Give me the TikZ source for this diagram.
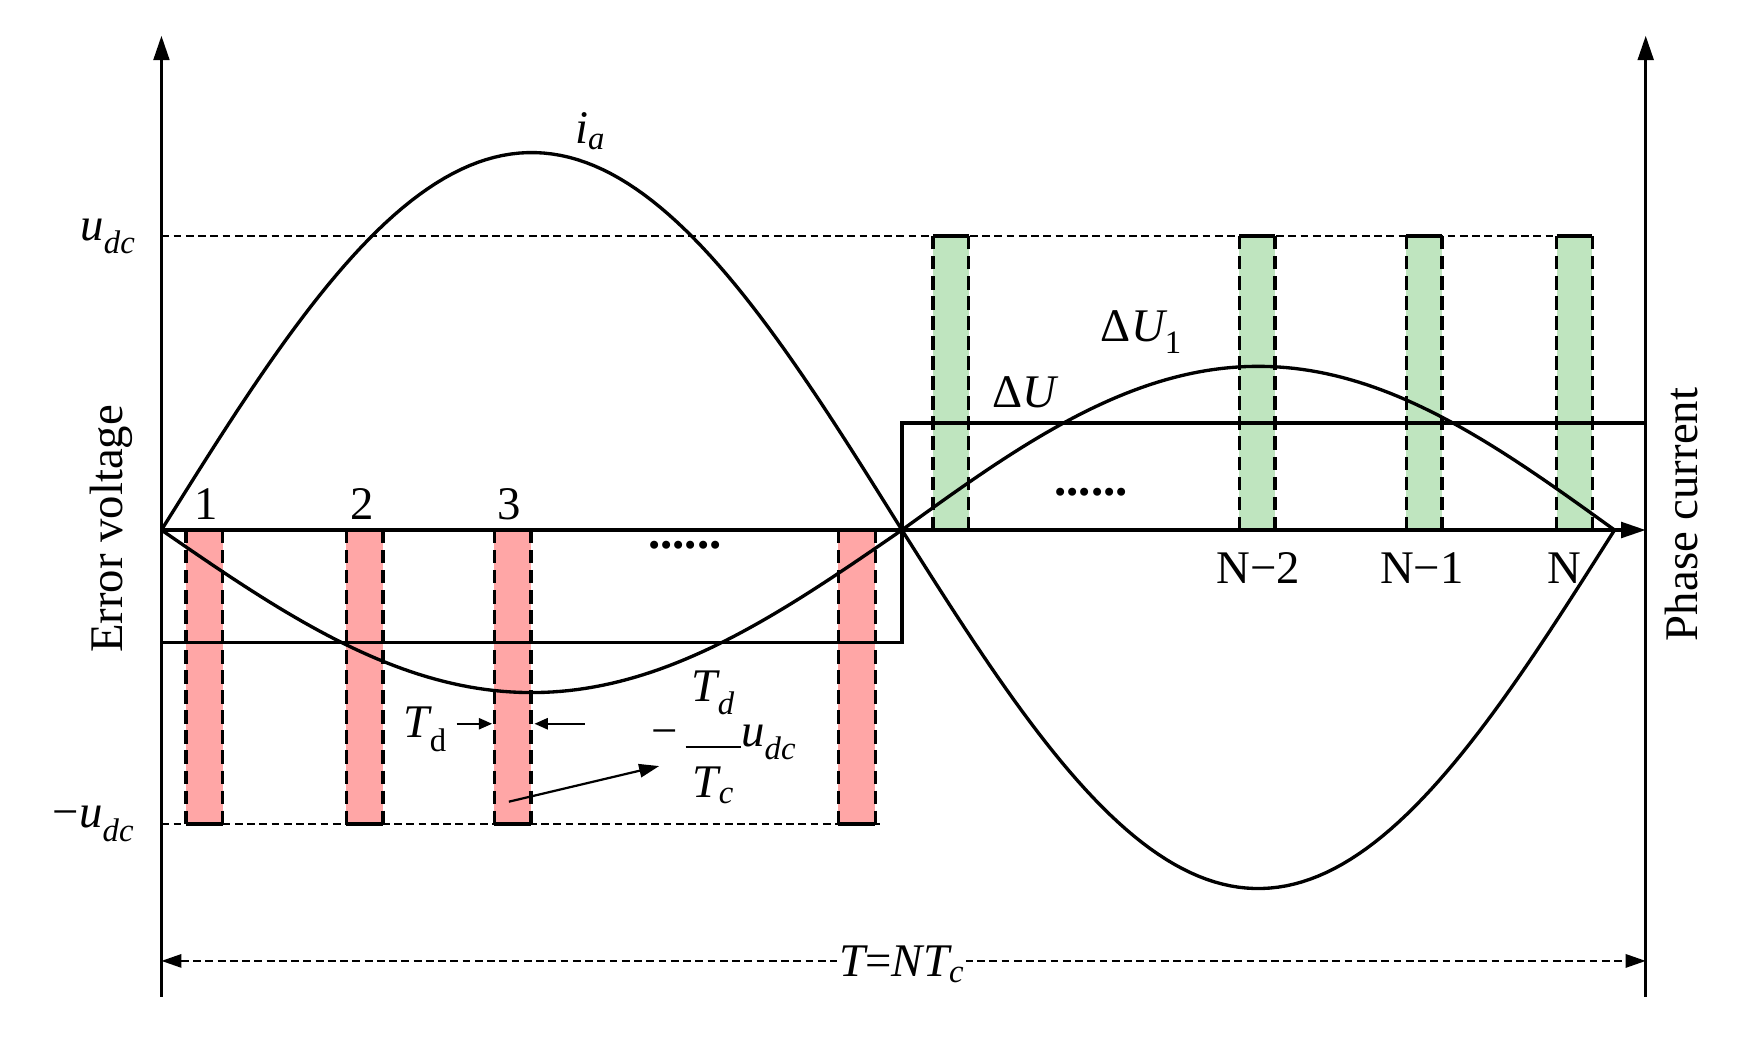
\documentclass[tikz,border=0pt]{standalone}
\usepackage{fontspec}
\setmainfont{Liberation Serif}
\usetikzlibrary{arrows.meta}
\newcommand{\ssb}[1]{\textsubscript{#1}}
\begin{document}
\begin{tikzpicture}[x=1pt,y=-1pt,
  ax/.style={line width=3pt,-{Triangle[length=22pt,width=14pt]}},
  thick3/.style={line width=3pt},
  bar/.style={dash pattern=on 12pt off 6pt,line width=3pt},
  dsh/.style={dash pattern=on 7pt off 4pt,line width=1.8pt},
  lbl/.style={font=\fontsize{42}{46}\selectfont,inner sep=0pt},
  lab/.style={font=\fontsize{42}{46}\selectfont\itshape,inner sep=0pt}]
\useasboundingbox (0,0) rectangle (1560,934);
\coordinate (lb) at (145,895); \coordinate (lt) at (145,32);
\coordinate (rb) at (1478,895); \coordinate (rt) at (1478,32);
\coordinate (z0) at (145,476); \coordinate (z1) at (1478,476);
\draw[ax] (lb) -- (lt);
\draw[ax] (rb) -- (rt);
% dashed levels
\draw[dsh] (145,212) -- (1430,212);
\draw[dsh] (145,740) -- (790,740);
% bars
\foreach \a in {167,311,444,753}{
  \fill[red!35] (\a,476) rectangle (\a+33,740);
  \draw[bar] (\a,476) -- (\a,740); \draw[bar] (\a+33,476) -- (\a+33,740);
  \draw[thick3] (\a,740) -- (\a+33,740);}
\foreach \a in {838,1113,1263,1398}{
  \fill[green!60!black!25] (\a,212) rectangle (\a+32,476);
  \draw[bar] (\a,476) -- (\a,212); \draw[bar] (\a+32,476) -- (\a+32,212);
  \draw[thick3] (\a,212) -- (\a+32,212);}
% zero axis
\draw[ax] (z0) -- (z1);
% square wave
\draw[thick3] (145,577) -- (810,577) -- (810,380) -- (1478,380);
% curves
\draw[thick3] plot[domain=145:810,samples=90] (\x,{476-339*sin((\x-145)/665*180)});
\draw[thick3] plot[domain=810:1450,samples=90] (\x,{476+322*sin((\x-810)/640*180)});
\draw[thick3] plot[domain=145:810,samples=90] (\x,{476+146*sin((\x-145)/665*180)});
\draw[thick3] plot[domain=810:1450,samples=90] (\x,{476-147*sin((\x-810)/640*180)});
% labels
\node[lbl] (n1) at (185,453) {1};
\node[lbl] (n2) at (325,453) {2};
\node[lbl] (n3) at (457,453) {3};
\node[lbl,font=\fontsize{44}{46}\bfseries] (d1) at (615,490) {......};
\node[lbl,font=\fontsize{44}{46}\bfseries] (d2) at (980,442) {......};
\node[lbl] (nm2) at (1130,510) {N−2};
\node[lbl] (nm1) at (1277,510) {N−1};
\node[lbl] (nn) at (1405,510) {N};
\node[lab] (dU) at (920,352) {\upshape Δ\itshape U};
\node[lab] (dU1) at (1025,298) {\upshape Δ\itshape U\ssb{\upshape 1}};
\node[lab] (ia) at (530,118) {i\ssb{a}};
\node[lab] (ud) at (97,212) {u\ssb{dc}};
\node[lab] (mud) at (84,740) {\upshape −\itshape u\ssb{dc}};
\node[lab] (Td) at (382,655) {T\ssb{\upshape d}};
\coordinate (ta) at (410,650); \coordinate (tb) at (442,650);
\coordinate (tc) at (525,650); \coordinate (td) at (480,650);
\draw[line width=2pt,-{Triangle[length=12pt,width=10pt]}] (ta) -- (tb);
\draw[line width=2pt,-{Triangle[length=12pt,width=10pt]}] (tc) -- (td);
\node[lbl] (fr) at (650,664) {−\,\begin{tabular}{@{}c@{}}\itshape T\ssb{d}\\[-4pt]\rule{50pt}{2pt}\\[-2pt]\itshape T\ssb{c}\end{tabular}\itshape u\ssb{dc}};
\coordinate (pa) at (457,720); \coordinate (pb) at (592,688);
\draw[line width=2pt,-{Triangle[length=18pt,width=12pt]}] (pa) -- (pb);
\node[lbl,rotate=90] (ev) at (100,475) {Error voltage};
\node[lbl,rotate=90] (pc) at (1510,462) {Phase current};
\coordinate (ea) at (145,863); \coordinate (eb) at (1478,863);
\draw[dsh,{Triangle[length=18pt,width=12pt]}-{Triangle[length=18pt,width=12pt]}] (ea) -- (eb);
\node[lab,fill=white,inner sep=2pt] (T) at (810,866) {T\upshape =\itshape NT\ssb{c}};
\end{tikzpicture}
\end{document}
